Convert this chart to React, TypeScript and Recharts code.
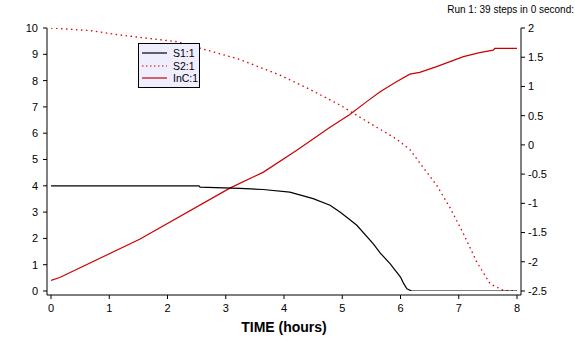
import React from 'react';
import { LineChart, Line, XAxis, YAxis, Legend } from 'recharts';

// S1:1 (left axis)
const s1Time = [0, 2.54, 2.56, 3.24, 3.64, 4.1, 4.5, 4.79, 4.96, 5.11, 5.25, 5.53, 5.65, 5.82, 6.0, 6.05, 6.11, 6.19, 8];
const s1Value = [4.0, 4.0, 3.95, 3.9, 3.86, 3.76, 3.51, 3.26, 3.0, 2.75, 2.5, 1.8, 1.45, 1.04, 0.53, 0.3, 0.08, 0.0, 0.0];

// S2:1 (left axis)
const s2Time = [0, 0.67, 1.2, 2.16, 2.61, 3.22, 3.93, 4.45, 4.96, 5.48, 5.93, 6.16, 6.39, 6.62, 6.85, 7.08, 7.31, 7.54, 7.77, 8];
const s2Value = [10, 9.9, 9.73, 9.48, 9.2, 8.82, 8.21, 7.66, 7.07, 6.37, 5.78, 5.38, 4.69, 4.02, 3.17, 2.18, 1.1, 0.27, 0.02, 0.0];

// InC:1 (right axis)
const incTime = [0, 0.15, 1.53, 3.07, 3.64, 4.22, 4.79, 5.13, 5.42, 5.65, 5.93, 6.16, 6.33, 6.62, 7.08, 7.36, 7.59, 7.62, 8];
const incValue = [-2.32, -2.27, -1.61, -0.74, -0.47, -0.09, 0.3, 0.52, 0.74, 0.91, 1.08, 1.21, 1.24, 1.34, 1.51, 1.58, 1.62, 1.65, 1.65];

const xTicks = [0, 1, 2, 3, 4, 5, 6, 7, 8];
const leftTicks = [0, 1, 2, 3, 4, 5, 6, 7, 8, 9, 10];
const rightTicks = [-2.5, -2, -1.5, -1, -0.5, 0, 0.5, 1, 1.5, 2];

const seriesNames = ['S1:1', 'S2:1', 'InC:1'];
const runText = 'Run 1: 39 steps in 0 second:';
const xTitle = 'TIME (hours)';

const s1Data = s1Time.map((t, i) => ({ t, v: s1Value[i] }));
const s2Data = s2Time.map((t, i) => ({ t, v: s2Value[i] }));
const incData = incTime.map((t, i) => ({ t, v: incValue[i] }));

const FONT = '"Liberation Sans", Arial, sans-serif';
const tickStyle = { fontSize: 11, fill: '#000', fontFamily: FONT };

const legendItems = [
  { name: seriesNames[0], color: '#000000', dash: undefined as string | undefined },
  { name: seriesNames[1], color: '#dd0000', dash: '1.5 2.5' },
  { name: seriesNames[2], color: '#cc0000', dash: undefined as string | undefined },
];

const LegendBox = () => (
  <div
    style={{
      width: 62,
      height: 45,
      background: '#eeeefe',
      border: '1px solid #000',
      boxSizing: 'border-box',
      fontFamily: FONT,
      fontSize: 10.5,
      paddingTop: 3,
    }}
  >
    {legendItems.map((it) => (
      <div key={it.name} style={{ height: 12.5, display: 'flex', alignItems: 'center' }}>
        <svg width={34} height={12} style={{ display: 'block' }}>
          <line x1={3} y1={6} x2={28} y2={6} stroke={it.color} strokeWidth={1.2} strokeDasharray={it.dash} />
        </svg>
        <span style={{ lineHeight: '12px', color: '#000' }}>{it.name}</span>
      </div>
    ))}
  </div>
);

export default function App() {
  return (
    <div style={{ position: 'absolute', left: 0, top: 0, width: 575, height: 360, background: '#fff', overflow: 'hidden' }}>
      <LineChart width={575} height={360} margin={{ top: 28, right: 0, bottom: 0, left: 0 }}>
        <XAxis
          dataKey="t"
          type="number"
          domain={[0, 8]}
          ticks={xTicks}
          padding={{ left: 4, right: 4 }}
          height={65}
          tickSize={4}
          tickMargin={5}
          tick={tickStyle}
          stroke="#000"
          interval={0}
          allowDataOverflow
          label={{
            value: xTitle,
            position: 'insideBottom',
            offset: 28,
            style: { fontSize: 14, fontWeight: 'bold', fill: '#000', fontFamily: FONT },
          }}
        />
        <YAxis
          yAxisId="left"
          orientation="left"
          domain={[0, 10]}
          ticks={leftTicks}
          width={47}
          padding={{ top: 0, bottom: 4 }}
          tickSize={4}
          tickMargin={5}
          tick={tickStyle}
          stroke="#000"
          interval={0}
          allowDataOverflow
        />
        <YAxis
          yAxisId="right"
          orientation="right"
          domain={[-2.5, 2]}
          ticks={rightTicks}
          width={54}
          padding={{ top: 0, bottom: 4 }}
          tickSize={4}
          tickMargin={3}
          tick={tickStyle}
          stroke="#000"
          interval={0}
          allowDataOverflow
        />
        <Legend
          layout="vertical"
          align="center"
          verticalAlign="middle"
          wrapperStyle={{ left: 138, top: 43, width: 62 }}
          content={() => <LegendBox />}
        />
        <Line
          yAxisId="left"
          data={s2Data}
          dataKey="v"
          name={seriesNames[1]}
          stroke="#dd0000"
          strokeWidth={1.3}
          strokeDasharray="1.5 3.5"
          dot={false}
          activeDot={false}
          isAnimationActive={false}
        />
        <Line
          yAxisId="right"
          data={incData}
          dataKey="v"
          name={seriesNames[2]}
          stroke="#cc0000"
          strokeWidth={1.2}
          dot={false}
          activeDot={false}
          isAnimationActive={false}
        />
        <Line
          yAxisId="left"
          data={s1Data}
          dataKey="v"
          name={seriesNames[0]}
          stroke="#000000"
          strokeWidth={1.2}
          dot={false}
          activeDot={false}
          isAnimationActive={false}
        />
      </LineChart>
      <div
        style={{
          position: 'absolute',
          right: 1,
          top: 4,
          fontFamily: FONT,
          fontSize: 10,
          color: '#000',
          whiteSpace: 'nowrap',
        }}
      >
        {runText}
      </div>
    </div>
  );
}
